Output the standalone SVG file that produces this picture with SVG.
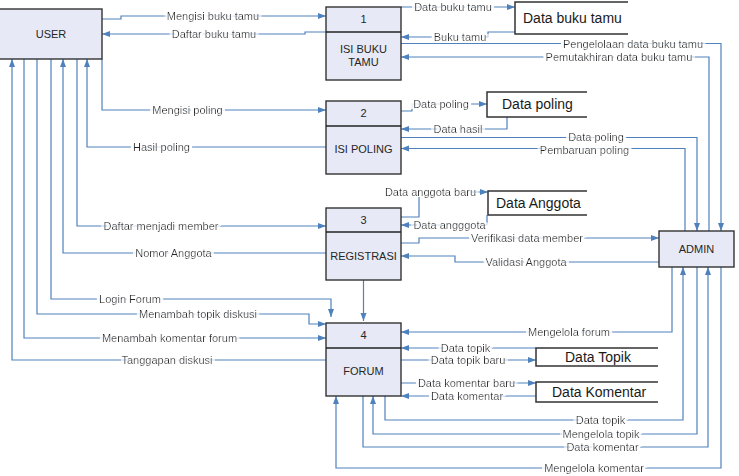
<svg xmlns="http://www.w3.org/2000/svg" width="739" height="476" viewBox="0 0 739 476">
  <defs>
    <marker id="arr" markerUnits="userSpaceOnUse" markerWidth="9" markerHeight="7" refX="8" refY="3" orient="auto">
      <path d="M0,0 L8,3 L0,6 z" fill="#4F81BD"/>
    </marker>
    <!-- white knock-out behind flow labels, wide enough to bridge word spaces -->
    <filter id="knock" x="-0.15" y="-0.4" width="1.3" height="1.8">
      <feMorphology in="SourceAlpha" operator="dilate" radius="3 1.2" result="grown"/>
      <feFlood flood-color="#fff"/>
      <feComposite in2="grown" operator="in"/>
      <feMerge>
        <feMergeNode/>
        <feMergeNode in="SourceGraphic"/>
      </feMerge>
    </filter>
    <style>
      .box { fill: #E7EAF6; stroke: #333; stroke-width: 1.4; }
      .div { stroke: #222; stroke-width: 1.4; }
      .store { fill: #fff; stroke: #333; stroke-width: 1.5; }
      .t { font-family: "Liberation Sans", Arial, sans-serif; font-size: 11px; fill: #262626; text-anchor: middle; }
      .st { font-family: "Liberation Sans", Arial, sans-serif; font-size: 14px; fill: #1a1a1a; }
      .flow { fill: none; stroke: #4F81BD; stroke-width: 1.2; }
      .arr { marker-end: url(#arr); }
      .lbl { font-family: "Liberation Sans", Arial, sans-serif; font-size: 11px; fill: #262626; text-anchor: middle; filter: url(#knock); }
    </style>
  </defs>
  <rect width="739" height="476" fill="#fff"/>

  <!-- data flows -->
  <g id="connectors">
    <!-- USER <-> 1 -->
    <path class="flow arr" d="M102,19 H121 V16 H326"/>
    <path class="flow arr" d="M326,32 H305 V34 H102"/>
    <!-- USER <-> 2 -->
    <path class="flow arr" d="M102,59 V110 H326"/>
    <path class="flow arr" d="M326,147 H87 V59"/>
    <!-- USER <-> 3 -->
    <path class="flow arr" d="M77,59 V226 H326"/>
    <path class="flow arr" d="M326,253 H63 V59"/>
    <!-- USER <-> 4 -->
    <path class="flow arr" d="M51,59 V299 H331 V317"/>
    <path class="flow arr" d="M37,59 V314 H309 V324 H326"/>
    <path class="flow arr" d="M24,59 V338 H326"/>
    <path class="flow arr" d="M326,360 H12 V59"/>
    <!-- 3 -> 4 -->
    <path class="flow arr" d="M363.5,280 V321"/>
    <!-- 1 <-> Data buku tamu -->
    <path class="flow arr" d="M401,7 H515"/>
    <path class="flow arr" d="M515,32 H488 V37 H401"/>
    <!-- 1 <-> ADMIN -->
    <path class="flow arr" d="M401,43.5 H721 V231"/>
    <path class="flow arr" d="M709,231 V57 H401"/>
    <!-- 2 <-> Data poling -->
    <path class="flow arr" d="M401,111 H412 V104 H487"/>
    <path class="flow arr" d="M507,117 V129 H401"/>
    <!-- 2 <-> ADMIN -->
    <path class="flow arr" d="M401,137.5 H697 V231"/>
    <path class="flow arr" d="M685,231 V148.5 H401"/>
    <!-- 3 <-> Data Anggota -->
    <path class="flow arr" d="M401,217 H419 V192 H488"/>
    <path class="flow arr" d="M487,215 V225 H401"/>
    <!-- 3 <-> ADMIN -->
    <path class="flow arr" d="M401,243 H419 V238 H659"/>
    <path class="flow arr" d="M659,262 H455 V256 H401"/>
    <!-- ADMIN -> 4 -->
    <path class="flow arr" d="M672,267 V332 H401"/>
    <!-- 4 <-> Data Topik -->
    <path class="flow arr" d="M536,348 H401"/>
    <path class="flow arr" d="M401,360 H536"/>
    <!-- 4 <-> Data Komentar -->
    <path class="flow arr" d="M401,383 H536"/>
    <path class="flow arr" d="M536,396 H401"/>
    <!-- 4 <-> ADMIN (below) -->
    <path class="flow arr" d="M385,396 V420 H683 V267"/>
    <path class="flow arr" d="M697,267 V434 H373 V396"/>
    <path class="flow arr" d="M363,396 V447 H708 V267"/>
    <path class="flow arr" d="M721,267 V468 H336 V396"/>

    <!-- flow labels -->
    <text class="lbl" x="213" y="20">Mengisi buku tamu</text>
    <text class="lbl" x="214" y="38">Daftar buku tamu</text>
    <text class="lbl" x="187.5" y="114">Mengisi poling</text>
    <text class="lbl" x="161.5" y="151">Hasil poling</text>
    <text class="lbl" x="161" y="230">Daftar menjadi member</text>
    <text class="lbl" x="173.5" y="257">Nomor Anggota</text>
    <text class="lbl" x="130" y="303">Login Forum</text>
    <text class="lbl" x="198" y="318">Menambah topik diskusi</text>
    <text class="lbl" x="169.5" y="342">Menambah komentar forum</text>
    <text class="lbl" x="167" y="364">Tanggapan diskusi</text>
    <text class="lbl" x="453" y="11">Data buku tamu</text>
    <text class="lbl" x="460" y="40.5">Buku tamu</text>
    <text class="lbl" x="633" y="47.5">Pengelolaan data buku tamu</text>
    <text class="lbl" x="619" y="61">Pemutakhiran data buku tamu</text>
    <text class="lbl" x="441" y="108">Data poling</text>
    <text class="lbl" x="458" y="133">Data hasil</text>
    <text class="lbl" x="596" y="141">Data poling</text>
    <text class="lbl" x="584.5" y="153.5">Pembaruan poling</text>
    <text class="lbl" x="430.5" y="196">Data anggota baru</text>
    <text class="lbl" x="449.5" y="229">Data angggota</text>
    <text class="lbl" x="527" y="242">Verifikasi data member</text>
    <text class="lbl" x="526" y="266">Validasi Anggota</text>
    <text class="lbl" x="569" y="336">Mengelola forum</text>
    <text class="lbl" x="465.5" y="352">Data topik</text>
    <text class="lbl" x="468" y="364">Data topik baru</text>
    <text class="lbl" x="466.5" y="387">Data komentar baru</text>
    <text class="lbl" x="467" y="400">Data komentar</text>
    <text class="lbl" x="600.5" y="424">Data topik</text>
    <text class="lbl" x="601" y="438">Mengelola topik</text>
    <text class="lbl" x="602.5" y="451">Data komentar</text>
    <text class="lbl" x="594" y="472">Mengelola komentar</text>
  </g>

  <!-- external entities -->
  <g id="user">
    <rect class="box" x="-1" y="9" width="103" height="50"/>
    <text class="t" x="51" y="38">USER</text>
  </g>
  <g id="admin">
    <rect class="box" x="659" y="231" width="75" height="36"/>
    <text class="t" x="696.5" y="253">ADMIN</text>
  </g>

  <!-- processes -->
  <g id="p1">
    <rect class="box" x="326" y="7" width="75" height="73"/>
    <line class="div" x1="326" y1="32" x2="401" y2="32"/>
    <text class="t" x="363.5" y="23">1</text>
    <text class="t" x="363.5" y="53">ISI BUKU</text>
    <text class="t" x="363.5" y="66">TAMU</text>
  </g>
  <g id="p2">
    <rect class="box" x="326" y="101" width="75" height="73"/>
    <line class="div" x1="326" y1="126" x2="401" y2="126"/>
    <text class="t" x="363.5" y="117">2</text>
    <text class="t" x="363.5" y="153">ISI POLING</text>
  </g>
  <g id="p3">
    <rect class="box" x="326" y="208" width="75" height="72"/>
    <line class="div" x1="326" y1="232" x2="401" y2="232"/>
    <text class="t" x="363.5" y="224">3</text>
    <text class="t" x="363.5" y="260">REGISTRASI</text>
  </g>
  <g id="p4">
    <rect class="box" x="326" y="323" width="75" height="73"/>
    <line class="div" x1="326" y1="348" x2="401" y2="348"/>
    <text class="t" x="363.5" y="339">4</text>
    <text class="t" x="363.5" y="375">FORUM</text>
  </g>

  <!-- data stores -->
  <g id="ds-bukutamu">
    <path class="store" d="M628,2 H515 V34 H628"/>
    <text class="st" x="523" y="22.5">Data buku tamu</text>
  </g>
  <g id="ds-poling">
    <path class="store" d="M587,92 H487 V117 H587"/>
    <text class="st" x="502" y="109">Data poling</text>
  </g>
  <g id="ds-anggota">
    <path class="store" d="M587,191 H488 V215 H587"/>
    <text class="st" x="496" y="208">Data Anggota</text>
  </g>
  <g id="ds-topik">
    <path class="store" d="M658,348 H536 V366 H658"/>
    <text class="st" x="565" y="362">Data Topik</text>
  </g>
  <g id="ds-komentar">
    <path class="store" d="M658,382 H536 V402 H658"/>
    <text class="st" x="552" y="397">Data Komentar</text>
  </g>
</svg>
